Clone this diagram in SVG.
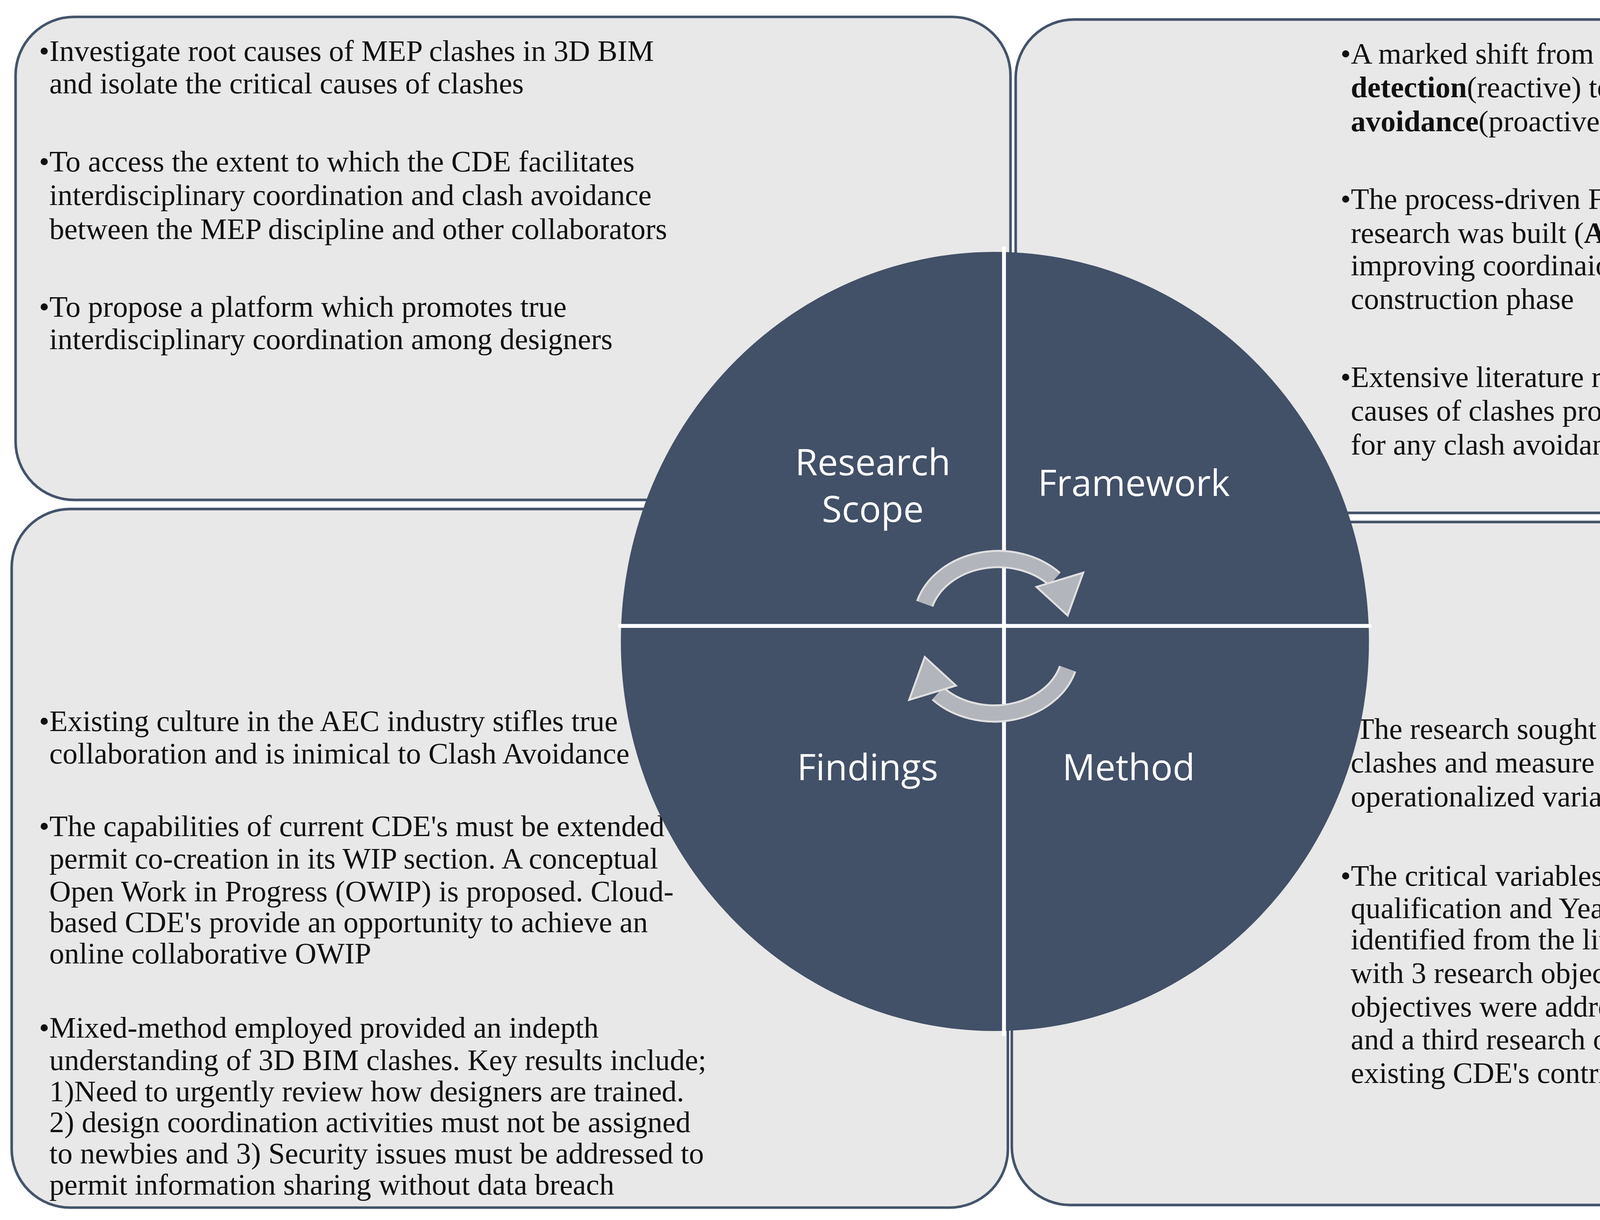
<svg xmlns="http://www.w3.org/2000/svg" width="5214" height="3124" viewBox="0 0 5214 3124">
<style>
.box{fill:#e8e8e8;stroke:#44546a;stroke-width:2}
.t{font-family:"Liberation Serif",serif;font-size:23px;fill:#111}
.lab{font-family:"Open Sans","Noto Sans",sans-serif;font-size:28px;fill:#fff;text-anchor:middle}
.q{fill:#425068}
.arc{fill:none;stroke:#b2b5bc;stroke-width:11}
.arcb{fill:none;stroke:#e0e0e0;stroke-width:14}
</style>
<rect width="5214" height="3124" fill="#fff"/>
<g transform="scale(3.325)">
<g id="box-scope"><rect class="box" x="12" y="13" width="766" height="372" rx="45"/>
<text class="t"><tspan x="30" y="47">•Investigate root causes of MEP clashes in 3D BIM</tspan><tspan x="38" y="72">and isolate the critical causes of clashes</tspan>
<tspan x="30" y="132">•To access the extent to which the CDE facilitates</tspan><tspan x="38" y="158">interdisciplinary coordination and clash avoidance</tspan><tspan x="38" y="184">between the MEP discipline and other collaborators</tspan>
<tspan x="30" y="244">•To propose a platform which promotes true</tspan><tspan x="38" y="269">interdisciplinary coordination among designers</tspan></text></g>
<g id="box-framework"><rect class="box" x="782" y="15" width="773" height="380" rx="45"/>
<text class="t"><tspan x="1032" y="49">•A marked shift from frameworks emphasizing <tspan font-weight="bold">clash</tspan></tspan><tspan x="1040" y="75" font-weight="bold">detection</tspan><tspan>(reactive) to frameworks promoting </tspan><tspan font-weight="bold">clash</tspan><tspan x="1040" y="101" font-weight="bold">avoidance</tspan><tspan>(proactive) was evident.</tspan>
<tspan x="1032" y="161">•The process-driven Frameworks upon which this</tspan><tspan x="1040" y="187">research was built (<tspan font-weight="bold">ADePT &amp; AVANTI</tspan>) relied on</tspan><tspan x="1040" y="212">improving coordinaion management during the pre-</tspan><tspan x="1040" y="238">construction phase</tspan>
<tspan x="1032" y="298">•Extensive literature review identified the main</tspan><tspan x="1040" y="324">causes of clashes providing important considerations</tspan><tspan x="1040" y="350">for any clash avoidance framework to be proposed.</tspan></text></g>
<g id="box-findings"><rect class="box" x="9" y="392" width="767" height="538" rx="45"/>
<text class="t"><tspan x="30" y="563">•Existing culture in the AEC industry stifles true</tspan><tspan x="38" y="588">collaboration and is inimical to Clash Avoidance</tspan>
<tspan x="30" y="644">•The capabilities of current CDE's must be extended to</tspan><tspan x="38" y="669">permit co-creation in its WIP section. A conceptual</tspan><tspan x="38" y="694">Open Work in Progress (OWIP) is proposed. Cloud-</tspan><tspan x="38" y="718">based CDE's provide an opportunity to achieve an</tspan><tspan x="38" y="742">online collaborative OWIP</tspan>
<tspan x="30" y="799">•Mixed-method employed provided an indepth</tspan><tspan x="38" y="824">understanding of 3D BIM clashes. Key results include;</tspan><tspan x="38" y="848">1)Need to urgently review how designers are trained.</tspan><tspan x="38" y="872">2) design coordination activities must not be assigned</tspan><tspan x="38" y="896">to newbies and 3) Security issues must be addressed to</tspan><tspan x="38" y="920">permit information sharing without data breach</tspan></text></g>
<g id="box-method"><rect class="box" x="779" y="402" width="779" height="526" rx="45"/>
<text class="t"><tspan x="1044" y="569">The research sought to evaluate the critical causes of</tspan><tspan x="1040" y="595">clashes and measure against important</tspan><tspan x="1040" y="621">operationalized variables.</tspan>
<tspan x="1032" y="682">•The critical variables ( working in isolation, BIM</tspan><tspan x="1040" y="707">qualification and Years of professional experience)</tspan><tspan x="1040" y="731">identified from the literature review were validated</tspan><tspan x="1040" y="757">with 3 research objectives. The first 2 research</tspan><tspan x="1040" y="783">objectives were addressed with 3 null hypotheses</tspan><tspan x="1040" y="808">and a third research objective investigated whether</tspan><tspan x="1040" y="834">existing CDE's contribute to clash avoidance.</tspan></text></g>
<g id="circle">
<ellipse cx="766" cy="494" rx="288" ry="300" class="q"/>
<line x1="773" y1="190" x2="773" y2="798" stroke="#fff" stroke-width="3"/>
<line x1="476" y1="482" x2="1056" y2="482" stroke="#fff" stroke-width="3"/>
<text class="lab" x="672" y="366">Research</text><text class="lab" x="672" y="402">Scope</text>
<text class="lab" x="873" y="382">Framework</text>
<text class="lab" x="668" y="601">Findings</text>
<text class="lab" x="869" y="601">Method</text>
</g>
<g id="connectors">
<g id="arrow-top">
<path class="arcb" d="M 712 465 A 59 48 0 0 1 812 446"/>
<path class="arc" d="M 712 465 A 59 48 0 0 1 812 446"/>
<polygon points="798,452 834,441 822,474" fill="#b2b5bc" stroke="#e0e0e0" stroke-width="1.5"/>
</g>
<g id="arrow-bottom" transform="rotate(180 767 490)">
<path class="arcb" d="M 712 465 A 59 48 0 0 1 812 446"/>
<path class="arc" d="M 712 465 A 59 48 0 0 1 812 446"/>
<polygon points="798,452 834,441 822,474" fill="#b2b5bc" stroke="#e0e0e0" stroke-width="1.5"/>
</g>
</g>
</g>
</svg>
